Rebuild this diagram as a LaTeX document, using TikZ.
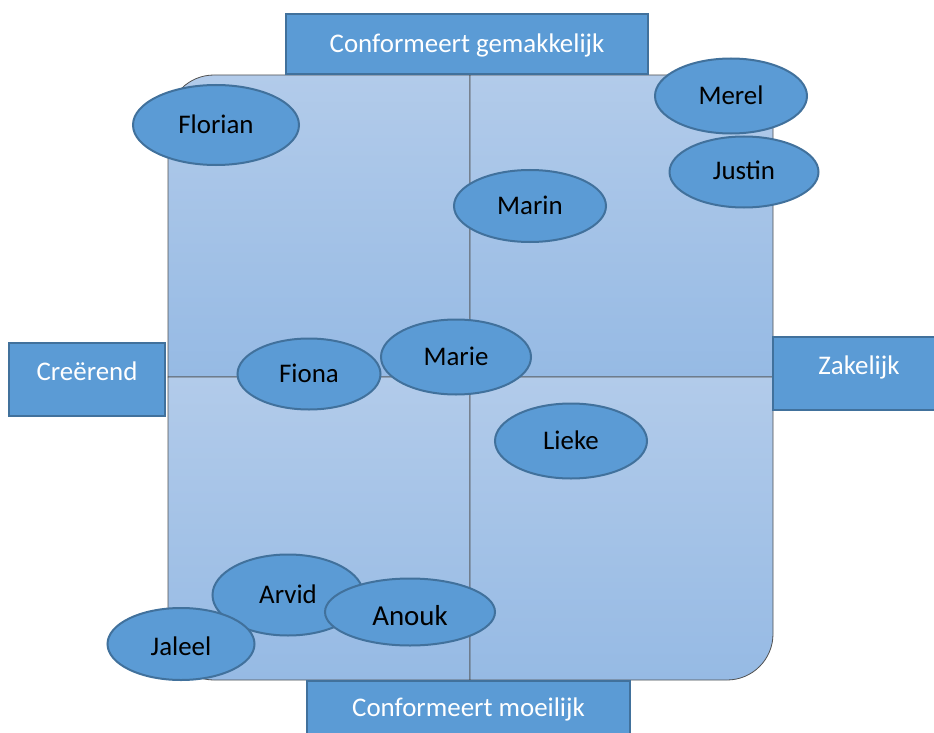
\documentclass[tikz,border=0pt]{standalone}
\usepackage{fontspec}
\setmainfont{Carlito}
\usetikzlibrary{shapes.geometric}
\definecolor{accent}{RGB}{91,155,213}
\definecolor{accentline}{RGB}{65,113,156}
\definecolor{quadtop}{RGB}{178,203,234}
\definecolor{quadbot}{RGB}{150,186,228}
\definecolor{quadline}{RGB}{80,80,80}
\tikzset{
  quad/.style={draw=quadline, line width=0.8bp, top color=quadtop, bottom color=quadbot},
  person/.style={ellipse, draw=accentline, line width=2bp, fill=accent, inner sep=0pt,
    text height=17.5bp, text depth=0pt, font=\fontsize{27}{31}\selectfont, text=black},
  axisbox/.style={rectangle, draw=accentline, line width=2.2bp, fill=accent, inner sep=0pt,
    text=white, text height=17.5bp, text depth=0pt, font=\fontsize{27}{31}\selectfont},
}
\begin{document}
\begin{tikzpicture}[x=1bp,y=-1bp]
\useasboundingbox (0,0) rectangle (934,733);
% quadrants
\path[quad] (168,377) -- (168,121) arc[start angle=180,end angle=270,radius=46] -- (470,75) -- (470,377) -- cycle;
\path[quad] (470,75) -- (727,75) arc[start angle=270,end angle=360,radius=46] -- (773,377) -- (470,377) -- cycle;
\path[quad] (168,377) -- (470,377) -- (470,680) -- (214,680) arc[start angle=90,end angle=180,radius=46] -- cycle;
\path[quad] (470,377) -- (773,377) -- (773,634) arc[start angle=0,end angle=90,radius=46] -- (470,680) -- cycle;
% axis boxes
\node[axisbox, minimum width=362bp, minimum height=60bp] (top) at (467,44) {Conformeert gemakkelijk};
\node[axisbox, minimum width=156bp, minimum height=73bp, text depth=15.5bp] (left) at (87,379.5) {Creërend};
\node[axisbox, minimum width=172bp, minimum height=73bp, text depth=15.5bp] (right) at (859,373.5) {Zakelijk};
\node[axisbox, minimum width=323bp, minimum height=60bp, text depth=7.5bp] (bottom) at (468.5,711) {Conformeert moeilijk};
% persons
\node[person, minimum width=166bp, minimum height=80bp] (florian) at (216,125) {Florian};
\node[person, minimum width=152bp, minimum height=75bp] (merel) at (731,96) {Merel};
\node[person, minimum width=149bp, minimum height=71bp, text depth=1.5bp] (justin) at (744,172) {Justin};
\node[person, minimum width=152bp, minimum height=72bp] (marin) at (530,206) {Marin};
\node[person, minimum width=143bp, minimum height=71bp] (fiona) at (309,374) {Fiona};
\node[person, minimum width=150bp, minimum height=75bp] (marie) at (456,357) {Marie};
\node[person, minimum width=152bp, minimum height=75bp] (lieke) at (571,441) {Lieke};
\node[person, minimum width=151bp, minimum height=81bp] (arvid) at (288,595) {Arvid};
\node[person, minimum width=147bp, minimum height=72bp, text height=23.5bp] (jaleel) at (181,644) {Jaleel};
\node[person, minimum width=170bp, minimum height=67bp, font=\fontsize{29}{33}\selectfont, text height=26bp] (anouk) at (410,612) {Anouk};
\end{tikzpicture}
\end{document}
